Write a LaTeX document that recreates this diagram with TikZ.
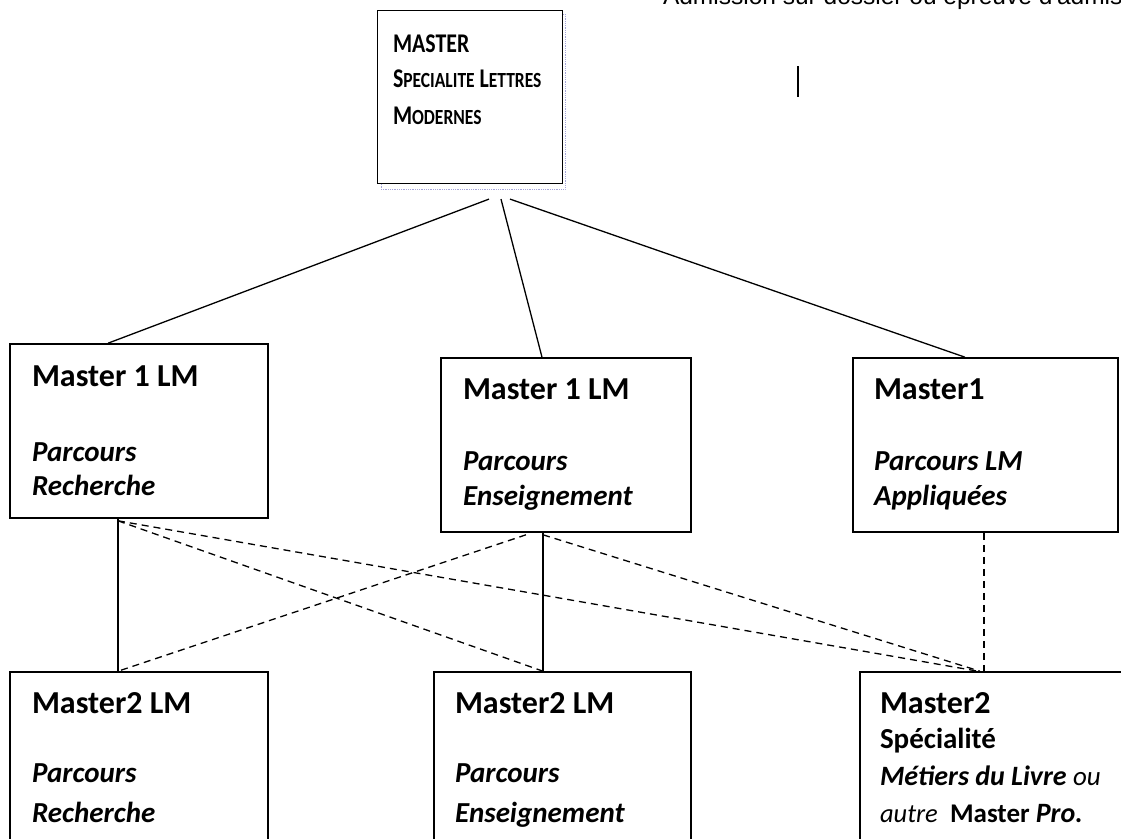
\documentclass[tikz,border=0pt]{standalone}
\usepackage{fontspec}
\usepackage{graphicx}
\setmainfont{Carlito}
\newfontfamily\arialfont{Liberation Sans}
\usetikzlibrary{calc}
\newcommand\cond[1]{\scalebox{0.81}[1]{#1}}
\newcommand\smc[1]{{\fontsize{21.6}{21.6}\selectfont #1}}
\tikzset{
  box/.style={draw, line width=1.6pt, inner sep=0pt, rectangle},
  conn/.style={line width=1.3pt},
  dconn/.style={line width=1.3pt, dash pattern=on 7pt off 5pt},
  lbl/.style={anchor=base west, inner sep=0pt, outer sep=0pt},
  hd/.style={lbl, font=\fontsize{32}{32}\selectfont\bfseries},
  it/.style={lbl, font=\fontsize{29}{29}\selectfont\bfseries\itshape},
  topt/.style={lbl, font=\fontsize{27}{27}\selectfont\bfseries},
}
\begin{document}
\begin{tikzpicture}[x=1pt,y=-1pt]
\useasboundingbox (0,0) rectangle (1121,838);
\clip (0,0) rectangle (1121,838);
\fill[white] (0,0) rectangle (1121,838);

% top partial text
\node[lbl, font=\arialfont\fontsize{24.5}{24.5}\selectfont] (adm) at (663,4) {Admission sur dossier ou épreuve d'admission};
\draw[line width=1.3pt] (798,66) -- (798,97);

% top box
\node[draw=gray!60!blue!50, densely dotted, line width=0.8pt, minimum width=184pt, minimum height=175pt, inner sep=0pt] (topg) at (473,101.5) {};
\node[box, fill=white, line width=1.2pt, minimum width=185pt, minimum height=173pt] (top) at (470,97) {};
\node[topt] (t1) at (393,52) {\cond{MASTER}};
\node[topt] (t2) at (393,87) {\cond{S\smc{PECIALITE} L\smc{ETTRES}}};
\node[topt] (t3) at (393,124) {\cond{M\smc{ODERNES}}};

% level 1 boxes
\node[box, minimum width=258pt, minimum height=174pt] (m1a) at (139,431) {};
\node[box, minimum width=250pt, minimum height=174pt] (m1b) at (566,445) {};
\node[box, minimum width=265pt, minimum height=174pt] (m1c) at (985.5,445) {};

\node[hd] (m1a1) at (32,386) {Master 1 LM};
\node[it] (m1a2) at (32,461) {Parcours};
\node[it] (m1a3) at (32,495) {Recherche};

\node[hd] (m1b1) at (463,399) {Master 1 LM};
\node[it] (m1b2) at (463,470) {Parcours};
\node[it] (m1b3) at (463,505) {Enseignement};

\node[hd] (m1c1) at (874,399) {Master1};
\node[it] (m1c2) at (874,470) {Parcours LM};
\node[it] (m1c3) at (874,505) {Appliquées};

% level 2 boxes
\node[box, minimum width=258pt, minimum height=198pt] (m2a) at (139,771) {};
\node[box, minimum width=257pt, minimum height=198pt] (m2b) at (562.5,771) {};
\node[box, minimum width=280pt, minimum height=198pt] (m2c) at (1000,771) {};

\node[hd] (m2a1) at (32,713) {Master2 LM};
\node[it] (m2a2) at (32,782) {Parcours};
\node[it] (m2a3) at (32,822) {Recherche};

\node[hd] (m2b1) at (455,713) {Master2 LM};
\node[it] (m2b2) at (455,782) {Parcours};
\node[it] (m2b3) at (455,822) {Enseignement};

\node[hd] (m2c1) at (880,713) {Master2};
\node[lbl, font=\fontsize{29}{29}\selectfont\bfseries] (m2c2) at (880,748) {Spécialité};
\node[lbl, font=\fontsize{28}{28}\selectfont] (m2c3) at (880,785) {{\bfseries\itshape Métiers du Livre} {\itshape\fontsize{27}{27}\selectfont ou}};
\node[lbl, font=\fontsize{27}{27}\selectfont] (m2c4) at (880,822) {{\itshape\fontsize{26.5}{26.5}\selectfont autre}\ \ {\bfseries Master} {\bfseries\itshape\fontsize{28}{28}\selectfont Pro.}};

% connectors top -> level 1
\draw[conn] ($(top.south)+(19,15)$) -- ($(m1a.north)+(-31,0)$);
\draw[conn] ($(top.south)+(31,15)$) -- ($(m1b.north)+(-24,0)$);
\draw[conn] ($(top.south)+(40,15)$) -- ($(m1c.north)+(-20.5,0)$);

% level 1 -> level 2
\draw[conn] ($(m1a.south)+(-21,0)$) -- ($(m2a.north)+(-21,0)$);
\draw[conn] ($(m1b.south)+(-23,0)$) -- ($(m2b.north)+(-19.5,0)$);
\draw[dconn] ($(m1c.south)+(-1.5,0)$) -- ($(m2c.north)+(-16,0)$);
\draw[dconn] ($(m1a.south)+(-21,2)$) -- ($(m2b.north)+(-19.5,0)$);
\draw[dconn] ($(m1a.south)+(-21,2)$) -- ($(m2c.north)+(-22,0)$);
\draw[dconn] ($(m1b.south)+(-40,2)$) -- ($(m2a.north)+(-21,0)$);
\draw[dconn] ($(m1b.south)+(-23,2)$) -- ($(m2c.north)+(-20,0)$);
\end{tikzpicture}
\end{document}
